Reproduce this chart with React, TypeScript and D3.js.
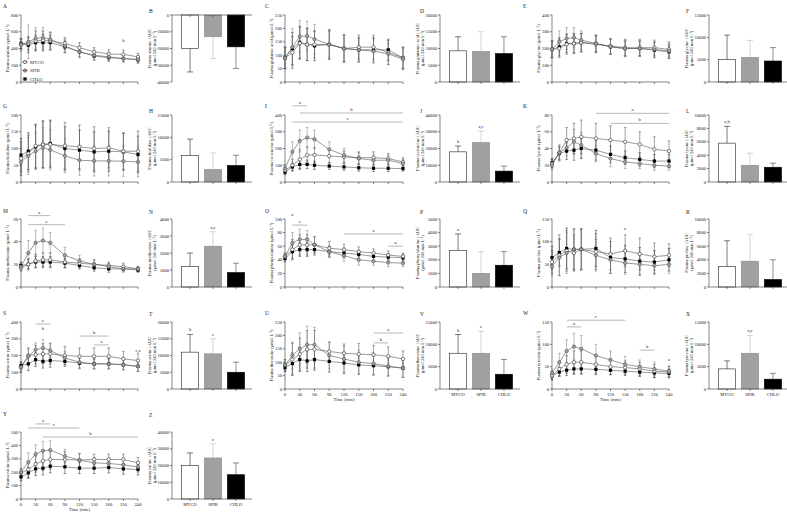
import React from 'react';
import * as d3 from 'd3';

// ---------- DATA ----------
const groups = ['MYCO', 'SPIR', 'CHLO'];
const times = [0, 15, 30, 45, 60, 90, 120, 150, 180, 210, 240];
const timeTicks = [0, 30, 60, 90, 120, 150, 180, 210, 240];

// means per group: [MYCO, SPIR, CHLO]
const alanineMean = [
  [450, 460, 490, 500, 490, 460, 410, 360, 335, 330, 300],
  [440, 480, 520, 530, 510, 430, 360, 320, 300, 280, 270],
  [460, 440, 470, 470, 470, 420, 360, 310, 290, 280, 265],
];
const alanineSd = [
  [60, 80, 120, 110, 100, 70, 60, 50, 50, 50, 40],
  [70, 200, 130, 120, 90, 80, 70, 50, 50, 40, 40],
  [60, 90, 90, 100, 90, 70, 60, 50, 40, 40, 40],
];
const alanineTicks = [0, 200, 400, 600, 800];
const alanineAuc = [-20000, -13000, -19000];
const alanineAucSd = [14000, 13000, 13000];
const alanineAucTicks = [0, -10000, -20000, -30000, -40000];

const glutamicMean = [
  [90, 110, 145, 140, 140, 140, 125, 130, 130, 110, 90],
  [90, 130, 170, 172, 160, 140, 125, 120, 115, 105, 85],
  [90, 125, 148, 140, 135, 140, 125, 120, 120, 120, 90],
];
const glutamicSd = [
  [40, 60, 60, 60, 50, 50, 50, 45, 45, 45, 40],
  [40, 70, 60, 55, 55, 55, 50, 45, 45, 40, 40],
  [40, 60, 60, 60, 55, 55, 50, 45, 45, 40, 40],
];
const glutamicTicks = [0, 50, 100, 150, 200, 250];
const glutamicAuc = [9300, 9100, 8500];
const glutamicAucSd = [4200, 5900, 5000];
const glutamicAucTicks = [0, 5000, 10000, 15000, 20000];

const glycineMean = [
  [195, 200, 225, 230, 235, 225, 215, 205, 205, 205, 195],
  [195, 240, 260, 265, 250, 230, 210, 200, 200, 195, 185],
  [195, 210, 230, 230, 235, 230, 210, 200, 200, 190, 180],
];
const glycineSd = [
  [50, 55, 60, 60, 55, 50, 45, 50, 50, 45, 45],
  [50, 65, 65, 60, 55, 50, 45, 50, 45, 45, 45],
  [50, 55, 55, 55, 55, 50, 45, 45, 45, 45, 40],
];
const glycineTicks = [0, 100, 200, 300, 400];
const glycineAuc = [5000, 5500, 4700];
const glycineAucSd = [5500, 3800, 3000];
const glycineAucTicks = [0, 5000, 10000, 15000];

const histidineMean = [
  [70, 85, 108, 112, 112, 108, 105, 100, 102, 92, 92],
  [60, 78, 92, 102, 96, 78, 65, 63, 63, 62, 60],
  [80, 92, 105, 112, 115, 100, 95, 90, 92, 90, 82],
];
const histidineSd = [
  [50, 55, 65, 70, 70, 70, 65, 65, 60, 55, 60],
  [40, 55, 55, 60, 60, 50, 45, 45, 45, 45, 45],
  [50, 55, 65, 70, 70, 65, 60, 60, 60, 55, 55],
];
const histidineTicks = [0, 50, 100, 150, 200];
const histidineAuc = [5900, 2800, 3700];
const histidineAucSd = [3700, 3700, 2300];
const histidineAucTicks = [0, 5000, 10000, 15000];

const isoleucineMean = [
  [70, 100, 135, 160, 162, 155, 150, 145, 145, 140, 120],
  [80, 180, 245, 265, 255, 195, 160, 140, 130, 130, 110],
  [60, 90, 105, 105, 100, 95, 90, 85, 82, 82, 80],
];
const isoleucineSd = [
  [20, 35, 60, 50, 45, 40, 35, 35, 35, 30, 25],
  [25, 60, 65, 60, 55, 45, 40, 35, 30, 30, 25],
  [15, 20, 25, 25, 25, 20, 20, 20, 20, 20, 15],
];
const isoleucineTicks = [0, 100, 200, 300, 400];
const isoleucineAuc = [18000, 23500, 6500];
const isoleucineAucSd = [3500, 7000, 3000];
const isoleucineAucTicks = [0, 10000, 20000, 30000, 40000];
const isoleucineAucLabels = ['b', 'a,c', ''];

const lysineMean = [
  [22, 35, 50, 52, 54, 52, 50, 48, 45, 39, 37],
  [20, 35, 41, 48, 44, 34, 28, 24, 22, 20, 19],
  [23, 34, 37, 38, 40, 38, 33, 29, 27, 25, 25],
];
const lysineSd = [
  [5, 8, 15, 18, 20, 18, 17, 17, 15, 15, 12],
  [5, 10, 10, 15, 15, 10, 10, 8, 6, 6, 5],
  [5, 8, 10, 12, 12, 12, 10, 8, 8, 8, 8],
];
const lysineTicks = [0, 20, 40, 60, 80];
const lysineAuc = [5800, 2500, 2200];
const lysineAucSd = [2500, 1800, 600];
const lysineAucTicks = [0, 2000, 4000, 6000, 8000, 10000];
const lysineAucLabels = ['a,b', '', ''];

const methionineMean = [
  [17, 20, 23, 24, 24, 22, 21, 20, 19, 18, 16],
  [18, 30, 39, 41, 39, 28, 23, 20, 18, 16, 16],
  [19, 20, 22, 22, 22, 21, 19, 17, 16, 16, 15],
];
const methionineSd = [
  [3, 5, 6, 6, 6, 5, 4, 4, 3, 3, 2],
  [3, 11, 11, 11, 9, 7, 5, 4, 3, 3, 2],
  [3, 4, 5, 5, 5, 4, 3, 3, 3, 2, 2],
];
const methionineTicks = [0, 20, 40, 60];
const methionineAuc = [1200, 2400, 850];
const methionineAucSd = [800, 850, 550];
const methionineAucTicks = [0, 1000, 2000, 3000, 4000];
const methionineAucLabels = ['', 'a,c', ''];

const phenylalanineMean = [
  [45, 55, 62, 62, 62, 57, 55, 52, 50, 47, 45],
  [45, 65, 70, 70, 62, 52, 46, 40, 38, 36, 35],
  [42, 52, 55, 55, 55, 52, 50, 48, 45, 44, 43],
];
const phenylalanineSd = [
  [5, 15, 15, 15, 12, 10, 8, 7, 6, 6, 5],
  [5, 15, 15, 13, 12, 8, 8, 8, 6, 6, 5],
  [5, 10, 10, 10, 8, 8, 7, 6, 6, 5, 5],
];
const phenylalanineTicks = [0, 20, 40, 60, 80, 100];
const phenylalanineAuc = [2700, 1000, 1600];
const phenylalanineAucSd = [1200, 1600, 1000];
const phenylalanineAucTicks = [0, 1000, 2000, 3000, 4000, 5000];
const phenylalanineAucLabels = ['a', '', ''];

const prolineMean = [
  [55, 70, 80, 75, 83, 78, 73, 80, 73, 67, 70],
  [45, 65, 75, 83, 83, 70, 60, 53, 50, 47, 50],
  [65, 76, 85, 83, 83, 85, 65, 62, 57, 55, 60],
];
const prolineSd = [
  [25, 45, 45, 40, 45, 40, 35, 35, 35, 30, 25],
  [20, 40, 45, 45, 45, 35, 30, 25, 25, 20, 20],
  [25, 30, 45, 45, 45, 40, 35, 30, 30, 25, 25],
];
const prolineTicks = [0, 50, 100, 150];
const prolineAuc = [3000, 3800, 1100];
const prolineAucSd = [3800, 3900, 2900];
const prolineAucTicks = [0, 2000, 4000, 6000, 8000, 10000];

const serineMean = [
  [130, 200, 205, 210, 210, 200, 195, 195, 195, 180, 170],
  [130, 195, 235, 245, 230, 185, 160, 150, 150, 145, 135],
  [140, 150, 175, 165, 170, 165, 155, 150, 150, 145, 135],
];
const serineSd = [
  [30, 45, 55, 60, 60, 55, 50, 50, 50, 45, 40],
  [30, 45, 40, 50, 45, 40, 40, 30, 30, 30, 30],
  [20, 40, 40, 40, 40, 30, 30, 30, 30, 30, 30],
];
const serineTicks = [0, 100, 200, 300, 400];
const serineAuc = [11000, 10500, 5000];
const serineAucSd = [5300, 4500, 3000];
const serineAucTicks = [0, 5000, 10000, 15000, 20000];
const serineAucLabels = ['b', 'c', ''];

const threonineMean = [
  [90, 110, 130, 148, 148, 140, 133, 130, 128, 122, 112],
  [90, 125, 150, 165, 165, 125, 112, 100, 95, 85, 78],
  [80, 95, 110, 105, 110, 103, 97, 90, 87, 83, 78],
];
const threonineSd = [
  [20, 60, 60, 70, 70, 35, 35, 40, 35, 35, 30],
  [20, 50, 60, 70, 65, 50, 50, 45, 40, 35, 35],
  [15, 40, 45, 40, 40, 40, 40, 35, 35, 35, 35],
];
const threonineTicks = [0, 50, 100, 150, 200, 250];
const threonineAuc = [8000, 8000, 3300];
const threonineAucSd = [4200, 4900, 3300];
const threonineAucTicks = [0, 5000, 10000, 15000];
const threonineAucLabels = ['b', 'c', ''];

const tyrosineMean = [
  [30, 45, 55, 60, 60, 55, 50, 48, 45, 40, 38],
  [35, 60, 85, 95, 90, 75, 65, 55, 50, 45, 40],
  [30, 38, 42, 45, 45, 44, 42, 40, 38, 36, 35],
];
const tyrosineSd = [
  [10, 15, 20, 25, 25, 20, 18, 15, 15, 15, 12],
  [10, 20, 25, 30, 30, 25, 20, 18, 15, 15, 12],
  [8, 10, 12, 12, 12, 12, 10, 10, 10, 10, 10],
];
const tyrosineTicks = [0, 50, 100, 150];
const tyrosineAuc = [4500, 8000, 2200];
const tyrosineAucSd = [1800, 4000, 1300];
const tyrosineAucTicks = [0, 5000, 10000, 15000];
const tyrosineAucLabels = ['', 'a,c', ''];

const valineMean = [
  [195, 220, 260, 285, 295, 295, 290, 295, 295, 295, 270],
  [200, 275, 335, 360, 365, 320, 290, 270, 265, 255, 240],
  [165, 195, 225, 230, 245, 240, 230, 230, 235, 225, 220],
];
const valineSd = [
  [30, 60, 60, 70, 70, 60, 50, 40, 40, 40, 40],
  [30, 70, 70, 70, 70, 50, 50, 40, 40, 40, 40],
  [30, 40, 50, 50, 50, 50, 40, 40, 40, 40, 40],
];
const valineTicks = [0, 100, 200, 300, 400, 500];
const valineAuc = [20000, 24500, 14500];
const valineAucSd = [7500, 8500, 7000];
const valineAucTicks = [0, 10000, 20000, 30000, 40000];
const valineAucLabels = ['', 'c', ''];

// significance annotations (minutes, value)
const alanineSig = [{ label: 'b', from: 210, at: 480 }];
const isoleucineSig = [
  { label: 'a', from: 15, to: 45, at: 455 },
  { label: 'b', from: 30, to: 240, at: 412 },
  { label: 'c', from: 15, to: 240, at: 358 },
];
const lysineSig = [
  { label: 'a', from: 90, to: 240, at: 82 },
  { label: 'b', from: 120, to: 240, at: 70 },
];
const methionineSig = [
  { label: 'a', from: 15, to: 60, at: 63 },
  { label: 'c', from: 15, to: 90, at: 55 },
];
const phenylalanineSig = [
  { label: 'a', from: 15, at: 104 },
  { label: 'c', from: 15, to: 45, at: 91 },
  { label: 'a', from: 120, to: 240, at: 78 },
  { label: 'a', from: 210, to: 240, at: 60 },
];
const prolineSig = [{ label: 'a', from: 150, at: 126 }];
const serineSig = [
  { label: 'c', from: 30, to: 60, at: 388 },
  { label: 'b', from: 45, at: 352 },
  { label: 'b', from: 120, to: 180, at: 316 },
  { label: 'a', from: 150, to: 180, at: 263 },
  { label: 'c,a', from: 240, at: 221 },
];
const threonineSig = [
  { label: 'a', from: 180, to: 240, at: 209 },
  { label: 'b', from: 180, to: 210, at: 172 },
];
const tyrosineSig = [
  { label: 'c', from: 30, to: 150, at: 154 },
  { label: 'a', from: 30, to: 60, at: 139 },
  { label: 'b', from: 180, to: 210, at: 87 },
  { label: 'a', from: 240, at: 62 },
];
const valineSig = [
  { label: 'a', from: 30, to: 60, at: 560 },
  { label: 'c', from: 15, to: 120, at: 530 },
  { label: 'b', from: 45, to: 240, at: 463 },
];

// ---------- LAYOUT ----------
const W = 787, H = 514;
const serif = "'Liberation Serif', 'Times New Roman', 'DejaVu Serif', serif";
const FS = 4.6;
const rowTop = [15, 115, 219, 322, 432];
const rowBottom = [82, 182, 287, 389, 499];
const lineCols = [[21, 138], [285, 403], [552, 669]];
const barAxisX = [172, 440, 709];
const lineLetterX = [3, 265, 523];
const barLetterX = [149, 420, 686];
const lineLetterY = [8, 108, 213, 315, 416];
const barLetterY = [13, 113, 214, 316, 417];

const markerFill = ['#ffffff', '#a0a0a0', '#000000'];
const markerStroke = ['#333333', '#555555', '#000000'];
const errColor = ['#444444', '#777777', '#222222'];
const barFill = ['#ffffff', '#a0a0a0', '#000000'];
const barStroke = ['#222222', '#888888', '#000000'];
const barErr = ['#222222', '#bbbbbb', '#444444'];

type Sig = { label: string; from: number; to?: number; at: number };
type LineSpec = {
  letter: string; name: string; row: number; col: number;
  mean: number[][]; sd: number[][]; ticks: number[]; sig?: Sig[];
  timeAxis?: boolean; legend?: boolean;
};
type BarSpec = {
  letter: string; name: string; row: number; col: number;
  auc: number[]; sd: number[]; ticks: number[]; labels?: string[];
  catAxis?: boolean;
};

const lineSpecs: LineSpec[] = [
  { letter: 'A', name: 'alanine', row: 0, col: 0, mean: alanineMean, sd: alanineSd, ticks: alanineTicks, sig: alanineSig, legend: true },
  { letter: 'C', name: 'glutamic acid', row: 0, col: 1, mean: glutamicMean, sd: glutamicSd, ticks: glutamicTicks },
  { letter: 'E', name: 'glycine', row: 0, col: 2, mean: glycineMean, sd: glycineSd, ticks: glycineTicks },
  { letter: 'G', name: 'histidine', row: 1, col: 0, mean: histidineMean, sd: histidineSd, ticks: histidineTicks },
  { letter: 'I', name: 'isoleucine', row: 1, col: 1, mean: isoleucineMean, sd: isoleucineSd, ticks: isoleucineTicks, sig: isoleucineSig },
  { letter: 'K', name: 'lysine', row: 1, col: 2, mean: lysineMean, sd: lysineSd, ticks: lysineTicks, sig: lysineSig },
  { letter: 'M', name: 'methionine', row: 2, col: 0, mean: methionineMean, sd: methionineSd, ticks: methionineTicks, sig: methionineSig },
  { letter: 'O', name: 'phenylalanine', row: 2, col: 1, mean: phenylalanineMean, sd: phenylalanineSd, ticks: phenylalanineTicks, sig: phenylalanineSig },
  { letter: 'Q', name: 'proline', row: 2, col: 2, mean: prolineMean, sd: prolineSd, ticks: prolineTicks, sig: prolineSig },
  { letter: 'S', name: 'serine', row: 3, col: 0, mean: serineMean, sd: serineSd, ticks: serineTicks, sig: serineSig },
  { letter: 'U', name: 'threonine', row: 3, col: 1, mean: threonineMean, sd: threonineSd, ticks: threonineTicks, sig: threonineSig, timeAxis: true },
  { letter: 'W', name: 'tyrosine', row: 3, col: 2, mean: tyrosineMean, sd: tyrosineSd, ticks: tyrosineTicks, sig: tyrosineSig, timeAxis: true },
  { letter: 'Y', name: 'valine', row: 4, col: 0, mean: valineMean, sd: valineSd, ticks: valineTicks, sig: valineSig, timeAxis: true },
];

const barSpecs: BarSpec[] = [
  { letter: 'B', name: 'alanine', row: 0, col: 0, auc: alanineAuc, sd: alanineAucSd, ticks: alanineAucTicks },
  { letter: 'D', name: 'glutamic acid', row: 0, col: 1, auc: glutamicAuc, sd: glutamicAucSd, ticks: glutamicAucTicks },
  { letter: 'F', name: 'glycine', row: 0, col: 2, auc: glycineAuc, sd: glycineAucSd, ticks: glycineAucTicks },
  { letter: 'H', name: 'histidine', row: 1, col: 0, auc: histidineAuc, sd: histidineAucSd, ticks: histidineAucTicks },
  { letter: 'J', name: 'isoleucine', row: 1, col: 1, auc: isoleucineAuc, sd: isoleucineAucSd, ticks: isoleucineAucTicks, labels: isoleucineAucLabels },
  { letter: 'L', name: 'lysine', row: 1, col: 2, auc: lysineAuc, sd: lysineAucSd, ticks: lysineAucTicks, labels: lysineAucLabels },
  { letter: 'N', name: 'methionine', row: 2, col: 0, auc: methionineAuc, sd: methionineAucSd, ticks: methionineAucTicks, labels: methionineAucLabels },
  { letter: 'P', name: 'phenylalanine', row: 2, col: 1, auc: phenylalanineAuc, sd: phenylalanineAucSd, ticks: phenylalanineAucTicks, labels: phenylalanineAucLabels },
  { letter: 'R', name: 'proline', row: 2, col: 2, auc: prolineAuc, sd: prolineAucSd, ticks: prolineAucTicks },
  { letter: 'T', name: 'serine', row: 3, col: 0, auc: serineAuc, sd: serineAucSd, ticks: serineAucTicks, labels: serineAucLabels },
  { letter: 'V', name: 'threonine', row: 3, col: 1, auc: threonineAuc, sd: threonineAucSd, ticks: threonineAucTicks, labels: threonineAucLabels, catAxis: true },
  { letter: 'X', name: 'tyrosine', row: 3, col: 2, auc: tyrosineAuc, sd: tyrosineAucSd, ticks: tyrosineAucTicks, labels: tyrosineAucLabels, catAxis: true },
  { letter: 'Z', name: 'valine', row: 4, col: 0, auc: valineAuc, sd: valineAucSd, ticks: valineAucTicks, labels: valineAucLabels, catAxis: true },
];

const axisColor = '#333';
const sigColor = '#999';

function Unit({ prefix }: { prefix: string }) {
  return (
    <>
      {prefix}
      <tspan dy={-1.4} fontSize={FS * 0.7}>-1</tspan>
      <tspan dy={1.4}>)</tspan>
    </>
  );
}

function LinePanel({ s }: { s: LineSpec }) {
  const [x0, x1] = lineCols[s.col];
  const top = rowTop[s.row], bottom = rowBottom[s.row];
  const x = d3.scaleLinear().domain([0, 240]).range([x0, x1]);
  const ymax = s.ticks[s.ticks.length - 1];
  const y = d3.scaleLinear().domain([0, ymax]).range([bottom, top]);
  const line = d3.line<number>().x((_, i) => x(times[i])).y((d) => y(d));
  const midY = (top + bottom) / 2;
  const order = [2, 0, 1];
  return (
    <g fontFamily={serif} fontSize={FS} fill="#222">
      <text x={lineLetterX[s.col]} y={lineLetterY[s.row]} fontSize={5.6}>{s.letter}</text>
      {/* y axis */}
      <line x1={x0} x2={x0} y1={bottom} y2={top} stroke={axisColor} strokeWidth={0.6} />
      {s.ticks.map((t) => (
        <g key={t}>
          <line x1={x0 - 2} x2={x0} y1={y(t)} y2={y(t)} stroke={axisColor} strokeWidth={0.6} />
          <text x={x0 - 3} y={y(t) + 1.6} textAnchor="end">{t}</text>
        </g>
      ))}
      {/* x axis */}
      <line x1={x0} x2={x1} y1={bottom} y2={bottom} stroke={axisColor} strokeWidth={0.6} />
      {timeTicks.map((t) => (
        <g key={t}>
          <line x1={x(t)} x2={x(t)} y1={bottom} y2={bottom + 2} stroke={axisColor} strokeWidth={0.6} />
          {s.timeAxis && <text x={x(t)} y={bottom + 6.5} textAnchor="middle">{t}</text>}
        </g>
      ))}
      {s.timeAxis && <text x={(x0 + x1) / 2} y={bottom + 12} textAnchor="middle">Time (min)</text>}
      <text transform={`translate(${x0 - 12},${midY}) rotate(-90)`} textAnchor="middle">
        <Unit prefix={`Plasma ${s.name} (μmol L`} />
      </text>
      {/* error bars */}
      {order.map((g) => (
        <g key={'e' + g} stroke={errColor[g]} strokeWidth={0.5}>
          {s.mean[g].map((m, i) => {
            const cx = x(times[i]);
            const yt = y(m + s.sd[g][i]);
            const yb = y(Math.max(0, m - s.sd[g][i]));
            return (
              <g key={i}>
                <line x1={cx} x2={cx} y1={yt} y2={yb} />
                <line x1={cx - 1.3} x2={cx + 1.3} y1={yt} y2={yt} />
                <line x1={cx - 1.3} x2={cx + 1.3} y1={yb} y2={yb} />
              </g>
            );
          })}
        </g>
      ))}
      {order.map((g) => (
        <path key={'l' + g} d={line(s.mean[g]) || ''} fill="none" stroke="#555" strokeWidth={0.6} />
      ))}
      {order.map((g) => (
        <g key={'m' + g}>
          {s.mean[g].map((m, i) => {
            const cx = x(times[i]);
            const cy = y(m);
            return g === 2 ? (
              <rect key={i} x={cx - 1.6} y={cy - 1.6} width={3.2} height={3.2} fill="#000" />
            ) : (
              <circle key={i} cx={cx} cy={cy} r={1.7} fill={markerFill[g]} stroke={markerStroke[g]} strokeWidth={0.6} />
            );
          })}
        </g>
      ))}
      {/* significance */}
      {(s.sig || []).map((a, k) => {
        const yy = y(a.at);
        if (a.to === undefined) {
          return <text key={k} x={x(a.from)} y={yy} textAnchor="middle">{a.label}</text>;
        }
        return (
          <g key={k}>
            <line x1={x(a.from)} x2={x(a.to)} y1={yy} y2={yy} stroke={sigColor} strokeWidth={0.7} />
            <text x={(x(a.from) + x(a.to)) / 2} y={yy - 2} textAnchor="middle">{a.label}</text>
          </g>
        );
      })}
      {s.legend && groups.map((gname, g) => {
        const ly = bottom - 20 + g * 8.5;
        const lx = x0 + 4;
        return (
          <g key={gname}>
            {g === 2 ? (
              <rect x={lx - 1.6} y={ly - 1.6} width={3.2} height={3.2} fill="#000" />
            ) : (
              <circle cx={lx} cy={ly} r={1.7} fill={markerFill[g]} stroke={markerStroke[g]} strokeWidth={0.6} />
            )}
            <line x1={lx - 3} x2={lx + 3} y1={ly} y2={ly} stroke="#555" strokeWidth={0.5} />
            <text x={lx + 5} y={ly + 1.6}>{gname}</text>
          </g>
        );
      })}
    </g>
  );
}

function BarPanel({ s }: { s: BarSpec }) {
  const ax = barAxisX[s.col];
  const top = rowTop[s.row], bottom = rowBottom[s.row];
  const lo = Math.min(...s.ticks), hi = Math.max(...s.ticks);
  const y = d3.scaleLinear().domain([lo, hi]).range([bottom, top]);
  const xb = d3.scaleBand<string>().domain(groups).range([ax + 6, ax + 76]).paddingInner(0.25).paddingOuter(0.15);
  const y0 = y(0);
  const midY = (top + bottom) / 2;
  return (
    <g fontFamily={serif} fontSize={FS} fill="#222">
      <text x={barLetterX[s.col]} y={barLetterY[s.row]} fontSize={5.6}>{s.letter}</text>
      <line x1={ax} x2={ax} y1={bottom} y2={top} stroke={axisColor} strokeWidth={0.6} />
      {s.ticks.map((t) => (
        <g key={t}>
          <line x1={ax - 2} x2={ax} y1={y(t)} y2={y(t)} stroke={axisColor} strokeWidth={0.6} />
          <text x={ax - 3} y={y(t) + 1.6} textAnchor="end">{t}</text>
        </g>
      ))}
      <text transform={`translate(${ax - 21.5},${midY}) rotate(-90)`} textAnchor="middle">{`Plasma ${s.name} iAUC`}</text>
      <text transform={`translate(${ax - 16},${midY}) rotate(-90)`} textAnchor="middle">
        <Unit prefix="(μmol 240 min L" />
      </text>
      {groups.map((g, i) => {
        const v = s.auc[i];
        const bx = xb(g) as number;
        const bw = xb.bandwidth();
        const yv = y(v);
        const ye = y(v + Math.sign(v) * s.sd[i]);
        const cx = bx + bw / 2;
        return (
          <g key={g}>
            <line x1={cx} x2={cx} y1={yv} y2={ye} stroke={barErr[i]} strokeWidth={0.6} />
            <line x1={cx - 3} x2={cx + 3} y1={ye} y2={ye} stroke={barErr[i]} strokeWidth={0.6} />
            <rect x={bx} y={Math.min(yv, y0)} width={bw} height={Math.abs(yv - y0)} fill={barFill[i]} stroke={barStroke[i]} strokeWidth={0.6} />
            {s.labels && s.labels[i] && (
              <text x={cx} y={ye - 3} textAnchor="middle">{s.labels[i]}</text>
            )}
            <line x1={cx} x2={cx} y1={y0} y2={y0 + 2} stroke={axisColor} strokeWidth={0.6} />
            {s.catAxis && <text x={cx} y={bottom + 7} textAnchor="middle">{g}</text>}
          </g>
        );
      })}
      <line x1={ax} x2={ax + 80} y1={y0} y2={y0} stroke={axisColor} strokeWidth={0.6} />
    </g>
  );
}

export default function App() {
  return (
    <svg width={W} height={H} viewBox={`0 0 ${W} ${H}`} style={{ position: 'absolute', left: 0, top: 0, background: '#fff' }}>
      <rect width={W} height={H} fill="#fff" />
      {lineSpecs.map((s) => <LinePanel key={s.letter} s={s} />)}
      {barSpecs.map((s) => <BarPanel key={s.letter} s={s} />)}
    </svg>
  );
}
